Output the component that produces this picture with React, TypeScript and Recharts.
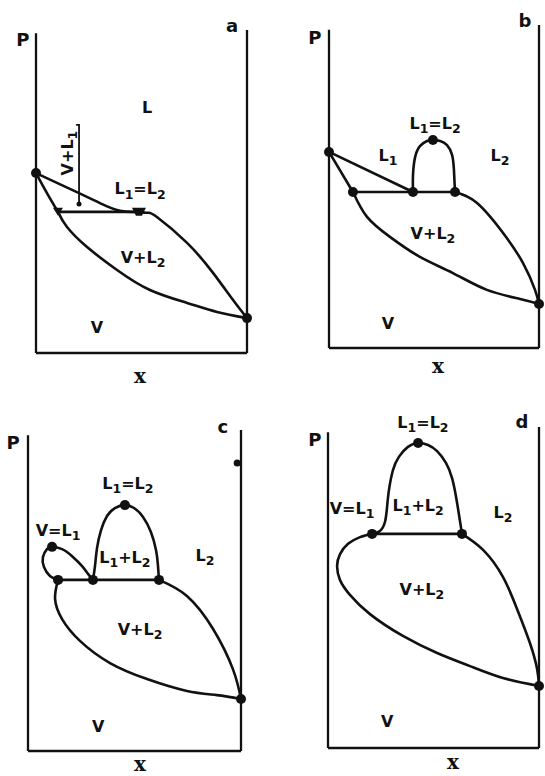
import React from 'react';
import { ComposedChart, Line, Scatter, XAxis, YAxis, ReferenceLine, ReferenceDot } from 'recharts';

type Pt = { x: number; p: number };
type Tag = { x: number; p: number; t: string };

const INK = '#111';
const SANS = '"DejaVu Sans", sans-serif';

// ---- a: simple azeotrope-free system, L1 = L2 critical end point on the bubble curve
const aDewLeft: Pt[] = [{ x: 0, p: 0.557 }, { x: 0.052, p: 0.495 }, { x: 0.104, p: 0.437 }];
const aBubbleLeft: Pt[] = [
  { x: 0, p: 0.557 }, { x: 0.204, p: 0.495 }, { x: 0.303, p: 0.464 }, { x: 0.398, p: 0.44 }, { x: 0.488, p: 0.437 },
];
const aTie: Pt[] = [{ x: 0.104, p: 0.437 }, { x: 0.488, p: 0.437 }];
const aBubbleRight: Pt[] = [
  { x: 0.488, p: 0.437 }, { x: 0.531, p: 0.434 }, { x: 0.573, p: 0.421 }, { x: 0.716, p: 0.341 },
  { x: 0.839, p: 0.248 }, { x: 0.934, p: 0.164 }, { x: 1, p: 0.108 },
];
const aDewLow: Pt[] = [
  { x: 0.104, p: 0.437 }, { x: 0.147, p: 0.39 }, { x: 0.242, p: 0.328 }, { x: 0.384, p: 0.257 },
  { x: 0.54, p: 0.195 }, { x: 0.716, p: 0.155 }, { x: 0.858, p: 0.127 }, { x: 1, p: 0.108 },
];
const aLeader: Pt[] = [{ x: 0.19, p: 0.706 }, { x: 0.204, p: 0.706 }, { x: 0.204, p: 0.461 }];
const aLeaderEnd: Pt[] = [{ x: 0.204, p: 0.461 }];
const aCrit: Pt[] = [{ x: 0, p: 0.557 }, { x: 1, p: 0.108 }];
const aTieLeft: Pt[] = [{ x: 0.104, p: 0.437 }];
const aTieRight: Pt[] = [{ x: 0.488, p: 0.437 }];
const aTags: Tag[] = [
  { x: 0.526, p: 0.762, t: 'L' },
  { x: 0.493, p: 0.51, t: 'L1=L2' },
  { x: 0.507, p: 0.297, t: 'V+L2' },
  { x: 0.289, p: 0.08, t: 'V' },
];
const aTurned: Tag[] = [{ x: 0.147, p: 0.619, t: 'V+L1' }];
const aFrame: Tag[] = [
  { x: -0.062, p: 0.969, t: 'P' },
  { x: 0.929, p: 1.015, t: 'a' },
];
const aAxisName: Tag[] = [{ x: 0.493, p: -0.074, t: 'x' }];

// ---- b: closed L1 + L2 dome sitting on the three-phase line
const bDewLeft: Pt[] = [{ x: 0, p: 0.607 }, { x: 0.114, p: 0.483 }];
const bBubbleLeft: Pt[] = [{ x: 0, p: 0.607 }, { x: 0.4, p: 0.483 }];
const bTie: Pt[] = [{ x: 0.114, p: 0.483 }, { x: 0.6, p: 0.483 }];
const bDome: Pt[] = [
  { x: 0.4, p: 0.483 }, { x: 0.4, p: 0.536 }, { x: 0.41, p: 0.591 }, { x: 0.433, p: 0.625 }, { x: 0.467, p: 0.641 },
  { x: 0.495, p: 0.644 }, { x: 0.529, p: 0.641 }, { x: 0.562, p: 0.628 }, { x: 0.586, p: 0.598 }, { x: 0.595, p: 0.551 },
  { x: 0.6, p: 0.483 },
];
const bBubbleRight: Pt[] = [
  { x: 0.6, p: 0.483 }, { x: 0.705, p: 0.449 }, { x: 0.829, p: 0.356 }, { x: 0.924, p: 0.263 }, { x: 0.981, p: 0.18 },
  { x: 1, p: 0.136 },
];
const bDewLow: Pt[] = [
  { x: 0.114, p: 0.483 }, { x: 0.181, p: 0.406 }, { x: 0.29, p: 0.344 }, { x: 0.433, p: 0.282 }, { x: 0.59, p: 0.232 },
  { x: 0.752, p: 0.18 }, { x: 0.91, p: 0.152 }, { x: 1, p: 0.136 },
];
const bNodes: Pt[] = [
  { x: 0, p: 0.607 }, { x: 0.495, p: 0.644 }, { x: 0.114, p: 0.483 }, { x: 0.4, p: 0.483 }, { x: 0.6, p: 0.483 },
  { x: 1, p: 0.136 },
];
const bTags: Tag[] = [
  { x: 0.505, p: 0.697, t: 'L1=L2' },
  { x: 0.281, p: 0.598, t: 'L1' },
  { x: 0.814, p: 0.598, t: 'L2' },
  { x: 0.495, p: 0.356, t: 'V+L2' },
  { x: 0.281, p: 0.077, t: 'V' },
];
const bFrame: Tag[] = [
  { x: -0.067, p: 0.96, t: 'P' },
  { x: 0.933, p: 1.015, t: 'b' },
];
const bAxisName: Tag[] = [{ x: 0.519, p: -0.059, t: 'x' }];

// ---- c: V = L1 loop split off the left side
const cLoop: Pt[] = [
  { x: 0.141, p: 0.533 }, { x: 0.103, p: 0.545 }, { x: 0.075, p: 0.573 }, { x: 0.07, p: 0.604 }, { x: 0.089, p: 0.629 },
  { x: 0.113, p: 0.636 }, { x: 0.16, p: 0.629 }, { x: 0.207, p: 0.607 }, { x: 0.254, p: 0.576 }, { x: 0.286, p: 0.548 },
  { x: 0.305, p: 0.533 },
];
const cTie: Pt[] = [{ x: 0.141, p: 0.533 }, { x: 0.615, p: 0.533 }];
const cDome: Pt[] = [
  { x: 0.305, p: 0.533 }, { x: 0.315, p: 0.579 }, { x: 0.324, p: 0.632 }, { x: 0.343, p: 0.688 }, { x: 0.371, p: 0.732 },
  { x: 0.408, p: 0.757 }, { x: 0.455, p: 0.766 }, { x: 0.498, p: 0.757 }, { x: 0.54, p: 0.729 }, { x: 0.577, p: 0.682 },
  { x: 0.601, p: 0.626 }, { x: 0.61, p: 0.579 }, { x: 0.615, p: 0.533 },
];
const cBubbleRight: Pt[] = [
  { x: 0.615, p: 0.533 }, { x: 0.746, p: 0.483 }, { x: 0.869, p: 0.38 }, { x: 0.962, p: 0.255 }, { x: 1, p: 0.162 },
];
const cDewLow: Pt[] = [
  { x: 0.141, p: 0.533 }, { x: 0.127, p: 0.474 }, { x: 0.16, p: 0.411 }, { x: 0.244, p: 0.343 }, { x: 0.385, p: 0.274 },
  { x: 0.559, p: 0.224 }, { x: 0.746, p: 0.187 }, { x: 0.887, p: 0.174 }, { x: 1, p: 0.162 },
];
const cNodes: Pt[] = [
  { x: 0.113, p: 0.636 }, { x: 0.141, p: 0.533 }, { x: 0.305, p: 0.533 }, { x: 0.615, p: 0.533 }, { x: 0.455, p: 0.766 },
  { x: 1, p: 0.162 },
];
const cPins: Pt[] = [{ x: 0.982, p: 0.897 }];
const cTags: Tag[] = [
  { x: 0.469, p: 0.835, t: 'L1=L2' },
  { x: 0.141, p: 0.688, t: 'V=L1' },
  { x: 0.455, p: 0.604, t: 'L1+L2' },
  { x: 0.831, p: 0.611, t: 'L2' },
  { x: 0.526, p: 0.38, t: 'V+L2' },
  { x: 0.329, p: 0.078, t: 'V' },
];
const cFrame: Tag[] = [
  { x: -0.07, p: 0.96, t: 'P' },
  { x: 0.915, p: 1.01, t: 'c' },
];
const cAxisName: Tag[] = [{ x: 0.526, p: -0.045, t: 'x' }];

// ---- d: loop merged into one big V + L2 region
const dTie: Pt[] = [{ x: 0.209, p: 0.667 }, { x: 0.635, p: 0.667 }];
const dDome: Pt[] = [
  { x: 0.209, p: 0.667 }, { x: 0.246, p: 0.676 }, { x: 0.27, p: 0.704 }, { x: 0.28, p: 0.751 }, { x: 0.289, p: 0.804 },
  { x: 0.308, p: 0.866 }, { x: 0.336, p: 0.907 }, { x: 0.379, p: 0.938 }, { x: 0.427, p: 0.95 }, { x: 0.474, p: 0.944 },
  { x: 0.517, p: 0.925 }, { x: 0.559, p: 0.888 }, { x: 0.588, p: 0.841 }, { x: 0.607, p: 0.782 }, { x: 0.621, p: 0.726 },
  { x: 0.635, p: 0.667 },
];
const dLoop: Pt[] = [
  { x: 0.209, p: 0.667 }, { x: 0.152, p: 0.657 }, { x: 0.095, p: 0.636 }, { x: 0.057, p: 0.604 }, { x: 0.043, p: 0.567 },
  { x: 0.057, p: 0.523 }, { x: 0.104, p: 0.477 }, { x: 0.199, p: 0.417 }, { x: 0.355, p: 0.349 }, { x: 0.517, p: 0.296 },
  { x: 0.673, p: 0.255 }, { x: 0.829, p: 0.218 }, { x: 1, p: 0.193 },
];
const dBubbleRight: Pt[] = [
  { x: 0.635, p: 0.667 }, { x: 0.735, p: 0.617 }, { x: 0.829, p: 0.533 }, { x: 0.896, p: 0.433 }, { x: 0.957, p: 0.327 },
  { x: 0.991, p: 0.246 }, { x: 1, p: 0.193 },
];
const dNodes: Pt[] = [{ x: 0.427, p: 0.95 }, { x: 0.209, p: 0.667 }, { x: 0.635, p: 0.667 }, { x: 1, p: 0.193 }];
const dTags: Tag[] = [
  { x: 0.45, p: 1.016, t: 'L1=L2' },
  { x: 0.114, p: 0.748, t: 'V=L1' },
  { x: 0.427, p: 0.757, t: 'L1+L2' },
  { x: 0.829, p: 0.735, t: 'L2' },
  { x: 0.445, p: 0.495, t: 'V+L2' },
  { x: 0.28, p: 0.084, t: 'V' },
];
const dFrame: Tag[] = [
  { x: -0.062, p: 0.96, t: 'P' },
  { x: 0.919, p: 1.016, t: 'd' },
];
const dAxisName: Tag[] = [{ x: 0.592, p: -0.047, t: 'x' }];

type Curve = { pts: Pt[]; kind: 'linear' | 'natural' };

type PanelSpec = {
  box: { left: number; top: number; width: number; height: number };
  margin: { top: number; right: number; bottom: number; left: number };
  leftTop: number;
  rightTop: number;
  curves: Curve[];
  nodes: Pt[];
  pins?: Pt[];
  wedges?: Pt[];
  blocks?: Pt[];
  thin?: Pt[];
  tags: Tag[];
  turned?: Tag[];
  frame: Tag[];
  axisName: Tag[];
};

// text with digits set as subscripts (L1 -> L₁)
function Word({ cx, cy, text, size, rotate }: { cx: number; cy: number; text: string; size: number; rotate?: boolean }) {
  const parts: React.ReactNode[] = [];
  let sub = false;
  Array.from(text).forEach((ch, i) => {
    const isSub = /\d/.test(ch);
    const dy = isSub && !sub ? size * 0.28 : !isSub && sub ? -size * 0.28 : 0;
    parts.push(
      <tspan key={i} dy={dy || undefined} fontSize={isSub ? size * 0.78 : size}>
        {ch}
      </tspan>,
    );
    sub = isSub;
  });
  return (
    <text
      x={cx}
      y={cy + size * 0.36}
      textAnchor="middle"
      fontFamily={SANS}
      fontWeight="bold"
      fill={INK}
      transform={rotate ? `rotate(-90 ${cx} ${cy})` : undefined}
    >
      {parts}
    </text>
  );
}

const bigDot = (s: any) => <circle cx={s.cx} cy={s.cy} r={5} fill={INK} />;
const smallDot = (s: any) => <circle cx={s.cx} cy={s.cy} r={3.5} fill={INK} />;
const tinyDot = (s: any) => <circle cx={s.cx} cy={s.cy} r={2.5} fill={INK} />;
const wedge = (s: any) => (
  <path d={`M${s.cx - 5},${s.cy - 4} L${s.cx + 5},${s.cy - 4} L${s.cx},${s.cy + 4} Z`} fill={INK} />
);
const block = (s: any) => (
  <path d={`M${s.cx - 7},${s.cy - 4} L${s.cx + 7},${s.cy - 4} L${s.cx + 3},${s.cy + 4} L${s.cx - 3},${s.cy + 4} Z`} fill={INK} />
);

const frameLine = { stroke: INK, strokeWidth: 2.3, ifOverflow: 'visible' as const };

function Panel({ spec }: { spec: PanelSpec }) {
  const { box, margin } = spec;
  return (
    <div style={{ position: 'absolute', left: box.left, top: box.top, width: box.width, height: box.height }}>
      <ComposedChart width={box.width} height={box.height} margin={margin}>
        <XAxis type="number" dataKey="x" domain={[0, 1]} hide />
        <YAxis type="number" dataKey="p" domain={[0, 1]} hide />
        {/* frame: P axis at x = 0, pure component at x = 1, composition axis at the bottom */}
        <ReferenceLine segment={[{ x: 0, y: 0 }, { x: 0, y: spec.leftTop }]} {...frameLine} />
        <ReferenceLine segment={[{ x: 1, y: 0 }, { x: 1, y: spec.rightTop }]} {...frameLine} />
        <ReferenceLine segment={[{ x: 0, y: 0 }, { x: 1, y: 0 }]} {...frameLine} />
        {spec.curves.map((c, i) => (
          <Line
            key={`c${i}`}
            data={c.pts}
            dataKey="p"
            type={c.kind}
            stroke={INK}
            strokeWidth={2.6}
            dot={false}
            activeDot={false}
            isAnimationActive={false}
          />
        ))}
        {spec.thin && (
          <Line data={spec.thin} dataKey="p" type="linear" stroke={INK} strokeWidth={1.8} dot={false} activeDot={false} isAnimationActive={false} />
        )}
        <Scatter data={spec.nodes} dataKey="p" shape={bigDot} isAnimationActive={false} />
        {spec.pins && <Scatter data={spec.pins} dataKey="p" shape={spec.thin ? tinyDot : smallDot} isAnimationActive={false} />}
        {spec.wedges && <Scatter data={spec.wedges} dataKey="p" shape={wedge} isAnimationActive={false} />}
        {spec.blocks && <Scatter data={spec.blocks} dataKey="p" shape={block} isAnimationActive={false} />}
        {spec.tags.map((t, i) => (
          <ReferenceDot
            key={`t${i}`}
            x={t.x}
            y={t.p}
            r={0}
            ifOverflow="visible"
            shape={(s: any) => <Word cx={s.cx} cy={s.cy} text={t.t} size={16} />}
          />
        ))}
        {(spec.turned ?? []).map((t, i) => (
          <ReferenceDot
            key={`r${i}`}
            x={t.x}
            y={t.p}
            r={0}
            ifOverflow="visible"
            shape={(s: any) => <Word cx={s.cx} cy={s.cy} text={t.t} size={16} rotate />}
          />
        ))}
        {spec.frame.map((t, i) => (
          <ReferenceDot
            key={`f${i}`}
            x={t.x}
            y={t.p}
            r={0}
            ifOverflow="visible"
            shape={(s: any) => <Word cx={s.cx} cy={s.cy} text={t.t} size={18} />}
          />
        ))}
        {spec.axisName.map((t, i) => (
          <ReferenceDot
            key={`x${i}`}
            x={t.x}
            y={t.p}
            r={0}
            ifOverflow="visible"
            shape={(s: any) => (
              <text x={s.cx} y={s.cy + 6} textAnchor="middle" fontFamily='"DejaVu Serif", serif' fontWeight="bold" fontSize={20} fill={INK}>
                {t.t}
              </text>
            )}
          />
        ))}
      </ComposedChart>
    </div>
  );
}

const panels: PanelSpec[] = [
  {
    box: { left: 0, top: 0, width: 272, height: 388 },
    margin: { top: 30, right: 25, bottom: 35, left: 36 },
    leftTop: 0.99,
    rightTop: 1,
    curves: [
      { pts: aDewLeft, kind: 'natural' },
      { pts: aBubbleLeft, kind: 'natural' },
      { pts: aTie, kind: 'linear' },
      { pts: aBubbleRight, kind: 'natural' },
      { pts: aDewLow, kind: 'natural' },
    ],
    nodes: aCrit,
    thin: aLeader,
    pins: aLeaderEnd,
    wedges: aTieLeft,
    blocks: aTieRight,
    tags: aTags,
    turned: aTurned,
    frame: aFrame,
    axisName: aAxisName,
  },
  {
    box: { left: 272, top: 0, width: 273, height: 388 },
    margin: { top: 25, right: 6, bottom: 40, left: 57 },
    leftTop: 0.985,
    rightTop: 1,
    curves: [
      { pts: bDewLeft, kind: 'linear' },
      { pts: bBubbleLeft, kind: 'linear' },
      { pts: bTie, kind: 'linear' },
      { pts: bDome, kind: 'natural' },
      { pts: bBubbleRight, kind: 'natural' },
      { pts: bDewLow, kind: 'natural' },
    ],
    nodes: bNodes,
    tags: bTags,
    frame: bFrame,
    axisName: bAxisName,
  },
  {
    box: { left: 0, top: 388, width: 272, height: 388 },
    margin: { top: 42, right: 31, bottom: 25, left: 28 },
    leftTop: 0.984,
    rightTop: 1,
    curves: [
      { pts: cLoop, kind: 'natural' },
      { pts: cTie, kind: 'linear' },
      { pts: cDome, kind: 'natural' },
      { pts: cBubbleRight, kind: 'natural' },
      { pts: cDewLow, kind: 'natural' },
    ],
    nodes: cNodes,
    pins: cPins,
    tags: cTags,
    frame: cFrame,
    axisName: cAxisName,
  },
  {
    box: { left: 272, top: 388, width: 273, height: 388 },
    margin: { top: 39, right: 6, bottom: 28, left: 56 },
    leftTop: 0.984,
    rightTop: 1,
    curves: [
      { pts: dTie, kind: 'linear' },
      { pts: dDome, kind: 'natural' },
      { pts: dLoop, kind: 'natural' },
      { pts: dBubbleRight, kind: 'natural' },
    ],
    nodes: dNodes,
    tags: dTags,
    frame: dFrame,
    axisName: dAxisName,
  },
];

export default function App() {
  return (
    <div style={{ position: 'absolute', left: 0, top: 0, width: 545, height: 776, background: '#fff', overflow: 'hidden' }}>
      {panels.map((s, i) => (
        <Panel key={i} spec={s} />
      ))}
    </div>
  );
}
